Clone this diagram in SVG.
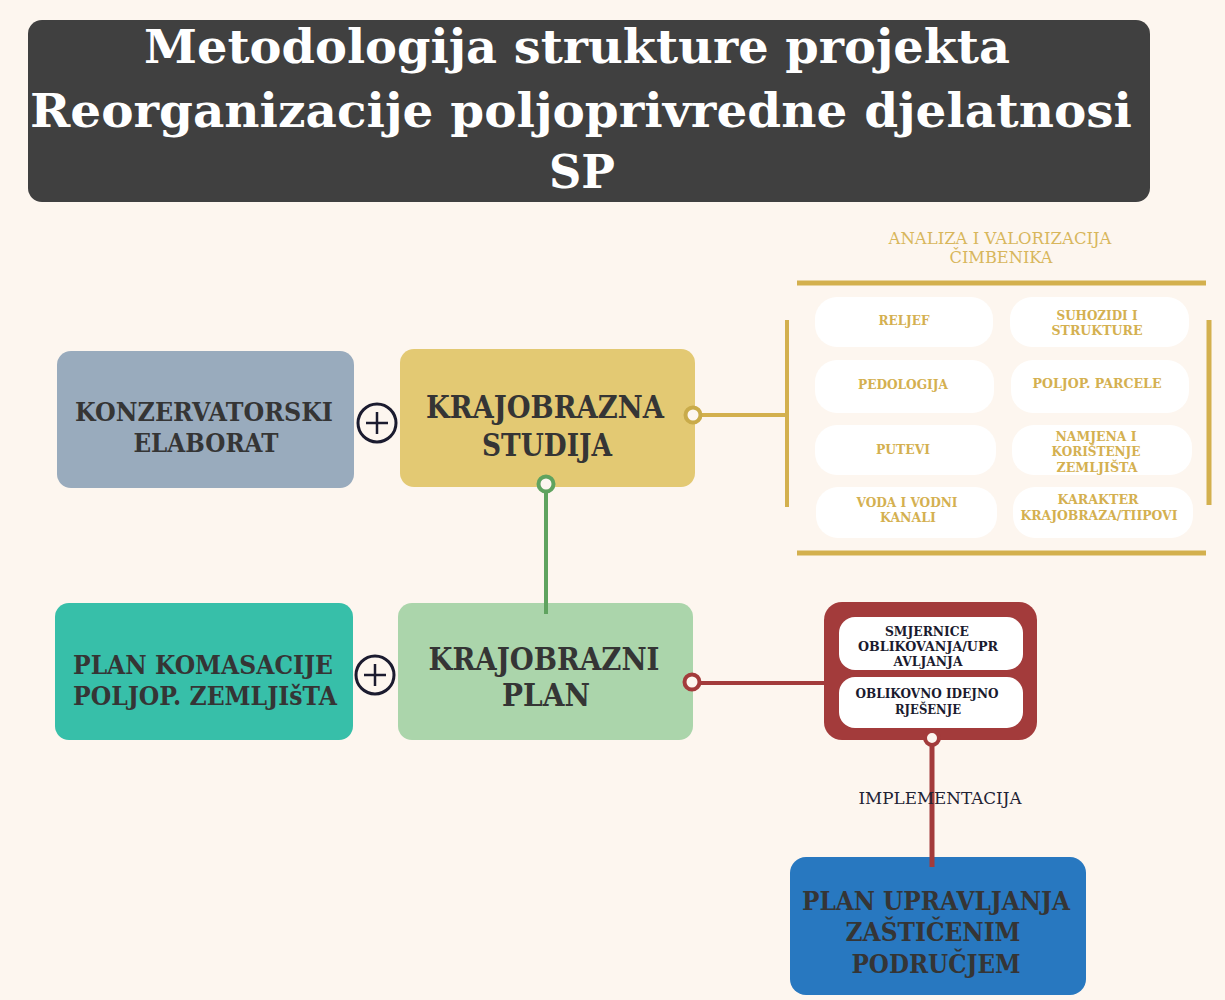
<svg xmlns="http://www.w3.org/2000/svg" width="1225" height="1000" viewBox="0 0 1225 1000">
<defs>
<style>
.bg{fill:#fdf6ef}
.slab{font-family:"DejaVu Serif","Liberation Serif",serif;font-weight:bold}
.reg{font-family:"DejaVu Serif","Liberation Serif",serif;font-weight:normal}
.title{fill:#ffffff;font-size:46px}
.node{fill:#353535;font-size:26px}
.big{font-size:31px}
.cell{fill:#ffffff}
.celltxt{fill:#d4b050;font-size:13px}
.redtxt{fill:#1a1a2e;font-size:12.5px}
.gold{stroke:#d3b04e;stroke-width:5;fill:none}
.plus{fill:#fdf6ef;stroke:#1b1b2f;stroke-width:3}
.plusline{stroke:#1b1b2f;stroke-width:2.5}
</style>
</defs>
<rect class="bg" x="0" y="0" width="1225" height="1000"/>

<g id="title">
<rect x="28" y="20" width="1122" height="182" rx="14" fill="#404040"/>
<text class="slab title" x="577" y="63" text-anchor="middle" textLength="866" lengthAdjust="spacingAndGlyphs">Metodologija strukture projekta</text>
<text class="slab title" x="581" y="127" text-anchor="middle" textLength="1102" lengthAdjust="spacingAndGlyphs">Reorganizacije poljoprivredne djelatnosi</text>
<text class="slab title" x="582" y="188" text-anchor="middle" textLength="66" lengthAdjust="spacingAndGlyphs">SP</text>
</g>

<g id="konzervatorski">
<rect x="57" y="351" width="297" height="137" rx="14" fill="#99abbd"/>
<text class="slab node" x="204" y="421" text-anchor="middle" font-size="24" textLength="258" lengthAdjust="spacingAndGlyphs">KONZERVATORSKI</text>
<text class="slab node" x="206" y="452" text-anchor="middle" font-size="24" textLength="145" lengthAdjust="spacingAndGlyphs">ELABORAT</text>
</g>

<g id="krajobrazna-studija">
<rect x="400" y="349" width="295" height="138" rx="14" fill="#e3c973"/>
<text class="slab node big" x="545" y="418" text-anchor="middle" textLength="238" lengthAdjust="spacingAndGlyphs">KRAJOBRAZNA</text>
<text class="slab node big" x="547" y="456" text-anchor="middle" textLength="130" lengthAdjust="spacingAndGlyphs">STUDIJA</text>
</g>

<g id="plan-komasacije">
<rect x="55" y="603" width="298" height="137" rx="14" fill="#37bfa9"/>
<text class="slab node" x="203" y="674" text-anchor="middle" font-size="24" textLength="260" lengthAdjust="spacingAndGlyphs">PLAN KOMASACIJE</text>
<text class="slab node" x="205" y="705" text-anchor="middle" font-size="24" textLength="264" lengthAdjust="spacingAndGlyphs">POLJOP. ZEMLJIšTA</text>
</g>

<g id="krajobrazni-plan">
<rect x="398" y="603" width="295" height="137" rx="14" fill="#abd5ab"/>
<text class="slab node big" x="544" y="670" text-anchor="middle" textLength="231" lengthAdjust="spacingAndGlyphs">KRAJOBRAZNI</text>
<text class="slab node big" x="546" y="706" text-anchor="middle" textLength="88" lengthAdjust="spacingAndGlyphs">PLAN</text>
</g>

<g id="plan-upravljanja">
<rect x="790" y="857" width="296" height="138" rx="16" fill="#2878c0"/>
<text class="slab node" x="936" y="910" text-anchor="middle" textLength="268" lengthAdjust="spacingAndGlyphs">PLAN UPRAVLJANJA</text>
<text class="slab node" x="933" y="941" text-anchor="middle" textLength="175" lengthAdjust="spacingAndGlyphs">ZAŠTIČENIM</text>
<text class="slab node" x="936" y="973" text-anchor="middle" textLength="169" lengthAdjust="spacingAndGlyphs">PODRUČJEM</text>
</g>

<g id="analiza-panel">
<text class="reg" x="1000" y="244" text-anchor="middle" font-size="17" fill="#d8b65c" textLength="223" lengthAdjust="spacingAndGlyphs">ANALIZA I VALORIZACIJA</text>
<text class="reg" x="1001" y="263" text-anchor="middle" font-size="17" fill="#d8b65c" textLength="103" lengthAdjust="spacingAndGlyphs">ČIMBENIKA</text>
<line class="gold" x1="797" y1="283" x2="1206" y2="283"/>
<line class="gold" x1="797" y1="553" x2="1206" y2="553"/>
<line class="gold" x1="1209" y1="320" x2="1209" y2="505" stroke-width="4"/>
</g>

<g id="reljef">
<rect class="cell" x="815" y="297" width="178" height="50" rx="22"/>
<text class="slab celltxt" x="904" y="325" text-anchor="middle" textLength="51" lengthAdjust="spacingAndGlyphs">RELJEF</text>
</g>
<g id="suhozidi">
<rect class="cell" x="1010" y="297" width="179" height="50" rx="22"/>
<text class="slab celltxt" x="1097" y="320" text-anchor="middle" textLength="81" lengthAdjust="spacingAndGlyphs">SUHOZIDI I</text>
<text class="slab celltxt" x="1097" y="335" text-anchor="middle" textLength="91" lengthAdjust="spacingAndGlyphs">STRUKTURE</text>
</g>
<g id="pedologija">
<rect class="cell" x="815" y="360" width="179" height="53" rx="22"/>
<text class="slab celltxt" x="903" y="389" text-anchor="middle" textLength="90" lengthAdjust="spacingAndGlyphs">PEDOLOGIJA</text>
</g>
<g id="poljop-parcele">
<rect class="cell" x="1011" y="360" width="178" height="53" rx="22"/>
<text class="slab celltxt" x="1097" y="388" text-anchor="middle" textLength="129" lengthAdjust="spacingAndGlyphs">POLJOP. PARCELE</text>
</g>
<g id="putevi">
<rect class="cell" x="815" y="425" width="181" height="50" rx="22"/>
<text class="slab celltxt" x="903" y="454" text-anchor="middle" textLength="54" lengthAdjust="spacingAndGlyphs">PUTEVI</text>
</g>
<g id="namjena">
<rect class="cell" x="1012" y="425" width="180" height="50" rx="22"/>
<text class="slab celltxt" x="1096" y="441" text-anchor="middle" textLength="81" lengthAdjust="spacingAndGlyphs">NAMJENA I</text>
<text class="slab celltxt" x="1096" y="456" text-anchor="middle" textLength="89" lengthAdjust="spacingAndGlyphs">KORIŠTENJE</text>
<text class="slab celltxt" x="1097" y="472" text-anchor="middle" textLength="81" lengthAdjust="spacingAndGlyphs">ZEMLJIŠTA</text>
</g>
<g id="voda">
<rect class="cell" x="816" y="487" width="181" height="51" rx="22"/>
<text class="slab celltxt" x="907" y="507" text-anchor="middle" textLength="101" lengthAdjust="spacingAndGlyphs">VODA I VODNI</text>
<text class="slab celltxt" x="908" y="522" text-anchor="middle" textLength="56" lengthAdjust="spacingAndGlyphs">KANALI</text>
</g>
<g id="karakter">
<rect class="cell" x="1013" y="487" width="180" height="51" rx="22"/>
<text class="slab celltxt" x="1098" y="504" text-anchor="middle" textLength="81" lengthAdjust="spacingAndGlyphs">KARAKTER</text>
<text class="slab celltxt" x="1099" y="520" text-anchor="middle" textLength="157" lengthAdjust="spacingAndGlyphs">KRAJOBRAZA/TIIPOVI</text>
</g>

<g id="smjernice-box">
<rect x="824" y="602" width="213" height="138" rx="18" fill="#a33b3b"/>
<rect x="839" y="617" width="184" height="53" rx="16" fill="#ffffff"/>
<rect x="839" y="677" width="184" height="51" rx="16" fill="#ffffff"/>
<text class="slab redtxt" x="927" y="636" text-anchor="middle" textLength="84" lengthAdjust="spacingAndGlyphs">SMJERNICE</text>
<text class="slab redtxt" x="928" y="651" text-anchor="middle" textLength="140" lengthAdjust="spacingAndGlyphs">OBLIKOVANJA/UPR</text>
<text class="slab redtxt" x="928" y="666" text-anchor="middle" textLength="69" lengthAdjust="spacingAndGlyphs">AVLJANJA</text>
<text class="slab redtxt" x="927" y="698" text-anchor="middle" textLength="143" lengthAdjust="spacingAndGlyphs">OBLIKOVNO IDEJNO</text>
<text class="slab redtxt" x="928" y="714" text-anchor="middle" textLength="66" lengthAdjust="spacingAndGlyphs">RJEŠENJE</text>
</g>

<g id="connectors">
<line x1="701" y1="415" x2="787" y2="415" stroke="#d3b04e" stroke-width="4"/>
<line x1="787" y1="320" x2="787" y2="507" stroke="#d3b04e" stroke-width="4"/>
<circle cx="693" cy="415" r="7.5" fill="#fdf6ef" stroke="#c9ab4a" stroke-width="4"/>
<line x1="546" y1="492" x2="546" y2="614" stroke="#5fa35f" stroke-width="4"/>
<circle cx="546" cy="484" r="7.5" fill="#fdf6ef" stroke="#5fa35f" stroke-width="4"/>
<line x1="700" y1="683" x2="825" y2="683" stroke="#a33b3b" stroke-width="4"/>
<circle cx="692" cy="682" r="7.5" fill="#fdf6ef" stroke="#a33b3b" stroke-width="4"/>
<line x1="932" y1="745" x2="932" y2="867" stroke="#a33b3b" stroke-width="5"/>
<circle cx="932" cy="738" r="7" fill="#fdf6ef" stroke="#a33b3b" stroke-width="4"/>
<text class="reg" x="940" y="804" text-anchor="middle" font-size="17" fill="#222233" textLength="163" lengthAdjust="spacingAndGlyphs">IMPLEMENTACIJA</text>
</g>

<g id="plus-1">
<circle class="plus" cx="377" cy="423" r="19"/>
<line class="plusline" x1="366" y1="423" x2="388" y2="423"/>
<line class="plusline" x1="377" y1="412" x2="377" y2="434"/>
</g>
<g id="plus-2">
<circle class="plus" cx="375" cy="675" r="19"/>
<line class="plusline" x1="364" y1="675" x2="386" y2="675"/>
<line class="plusline" x1="375" y1="664" x2="375" y2="686"/>
</g>
</svg>
